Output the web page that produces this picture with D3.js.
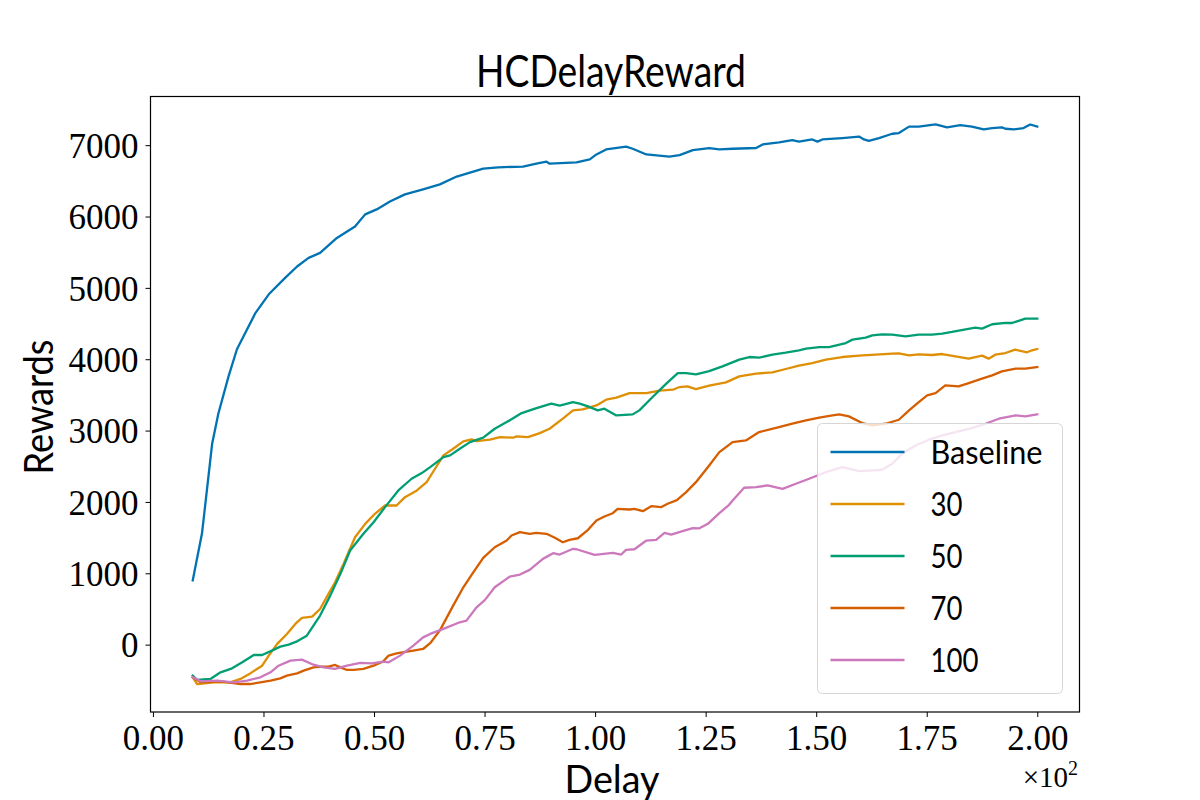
<!DOCTYPE html>
<html>
<head>
<meta charset="utf-8">
<script src="https://cdn.jsdelivr.net/npm/d3@7"></script>
<style>
  body { margin: 0; background: #fff; }
  svg { display: block; }
  .tick text { font-family: "Liberation Serif", serif; font-size: 35px; fill: #000; }
  .sans { font-family: Lato, "Open Sans", sans-serif; fill: #000; }
</style>
</head>
<body>
<svg id="chart" width="1200" height="800"></svg>
<script>
// delay (x100 shown on axis) vs reward
const baseline = [[9,900],[11.1,1560],[13.4,2820],[14.8,3240],[17.1,3760],[19,4140],[20.9,4370],[23.2,4650],[26.2,4910],[29.9,5140],[32.6,5300],[35.2,5420],[37.8,5490],[41.6,5700],[45.7,5860],[48,6030],[50.6,6100],[53.6,6210],[57,6310],[61.1,6380],[64.9,6450],[68.7,6560],[74.7,6670],[78.1,6690],[83.7,6700],[86.7,6740],[89,6770],[89.7,6740],[95.8,6760],[98.8,6800],[100.3,6870],[102.5,6940],[107,6980],[108.5,6950],[111.6,6870],[116.8,6840],[119.1,6860],[122.1,6930],[125.8,6960],[128.1,6940],[131.1,6950],[136.4,6960],[137.9,7010],[141.6,7040],[144.6,7070],[146.1,7050],[149.1,7080],[150.3,7050],[151.4,7080],[155.9,7100],[159.7,7120],[160.8,7080],[161.9,7060],[164.2,7100],[167.2,7160],[168.7,7170],[171,7260],[173.2,7260],[177,7290],[179.6,7250],[182.6,7280],[185.2,7260],[187.9,7220],[189.8,7240],[192,7250],[192.8,7230],[194.7,7220],[196.9,7240],[198.4,7290],[200,7260]];

const delay30 = [[9,-458],[10,-552],[13.8,-528],[17.5,-528],[19.8,-481],[22,-403],[24.7,-295],[26.2,-154],[28.1,10],[30.3,150],[32.2,290],[33.7,375],[36,393],[37.8,500],[39.7,711],[41.2,874],[43.1,1130],[45.7,1505],[48,1693],[50.2,1834],[52.5,1950],[55.1,1950],[57,2067],[59.7,2161],[61.9,2277],[63.8,2465],[65.7,2652],[67.9,2746],[70.2,2848],[72.1,2876],[73.2,2853],[76.2,2872],[78.5,2909],[81.5,2900],[82.2,2918],[84.8,2909],[87.5,2965],[89.7,3026],[92.7,3167],[95,3283],[97.2,3297],[100.3,3353],[102.5,3433],[104.8,3461],[107.8,3526],[111.6,3526],[114.6,3559],[117.6,3573],[119.1,3610],[120.9,3620],[122.8,3582],[125.8,3629],[129.6,3676],[132.6,3760],[136.4,3798],[140.1,3816],[143.1,3863],[146.1,3910],[149.1,3947],[152.2,3994],[155.9,4031],[159.7,4050],[163.4,4064],[167.2,4078],[168.7,4083],[171,4055],[173.2,4069],[176.2,4059],[178.5,4073],[181.5,4041],[184.5,4008],[187.5,4050],[189,4008],[190.5,4064],[192.8,4087],[195,4134],[197.7,4097],[198.8,4125],[200,4143]];

const delay50 = [[9,-435],[10,-495],[13,-481],[15.3,-388],[17.9,-332],[20.2,-248],[22.8,-145],[24.7,-145],[26.9,-84],[28.8,-28],[30.7,0],[32.6,46],[34.8,126],[37.8,407],[40.1,687],[42.4,992],[44.6,1319],[47.6,1553],[49.9,1716],[52.5,1927],[55.5,2161],[58.5,2325],[60.8,2404],[62.7,2488],[65.7,2628],[67.2,2652],[69.4,2746],[71.7,2838],[74.7,2900],[77.3,3026],[80,3119],[83.4,3245],[86.4,3307],[90.1,3377],[92,3349],[95,3400],[96.5,3377],[98.4,3339],[100.6,3283],[102.1,3307],[104.8,3213],[108.5,3227],[110,3283],[113,3470],[116.1,3658],[118.7,3806],[120.6,3806],[122.8,3788],[125.8,3834],[128.8,3900],[132.6,3994],[134.9,4031],[137.1,4022],[140.1,4064],[143.1,4092],[146.1,4125],[147.7,4148],[150.7,4171],[152.9,4171],[156.7,4227],[158.2,4275],[161.2,4303],[162.7,4335],[164.9,4349],[167.2,4345],[170.2,4321],[173.2,4345],[176.2,4345],[178.5,4359],[180.7,4382],[183.8,4419],[186,4443],[187.5,4429],[189.8,4490],[192.8,4508],[194.3,4508],[197.3,4570],[200,4570]];

const delay70 = [[9,-458],[10.8,-528],[15.3,-514],[19.8,-552],[22,-552],[24.3,-528],[26.6,-505],[28.8,-472],[30.3,-435],[32.6,-402],[34.1,-365],[36.3,-318],[38.2,-309],[39.7,-309],[41.2,-285],[42.4,-318],[43.9,-355],[45.4,-355],[47.6,-341],[49.9,-295],[52.1,-234],[53.3,-154],[55.1,-122],[57.4,-98],[58.9,-84],[61.1,-61],[62.7,20],[64.9,200],[67.9,547],[70.2,804],[72.1,982],[74.7,1216],[77.3,1365],[80,1459],[81.1,1529],[83,1576],[85.2,1553],[86.7,1567],[89,1553],[90.9,1497],[92.7,1435],[94.2,1469],[96.1,1491],[98.4,1609],[100.3,1740],[102.1,1796],[104,1842],[105.1,1904],[107.8,1894],[108.9,1904],[110.8,1870],[112.7,1940],[114.9,1926],[116.4,1974],[118.5,2025],[120.6,2137],[122.8,2277],[125.8,2511],[128.1,2698],[131.1,2838],[134.1,2862],[137.1,2979],[141.6,3049],[144.6,3096],[147.7,3143],[150.7,3180],[153.7,3213],[155.2,3227],[157.4,3199],[160.4,3105],[162.7,3073],[165.7,3096],[168.7,3152],[171,3283],[173.2,3400],[175.1,3494],[177,3526],[179.2,3634],[182.2,3620],[184.5,3666],[187.5,3728],[189.8,3774],[192,3830],[195.1,3868],[197.3,3868],[200,3891]];

const delay100 = [[9,-458],[10.8,-514],[14.5,-505],[18.3,-528],[21.3,-505],[24.3,-458],[26.6,-388],[28.4,-295],[31.1,-224],[33.7,-210],[36.3,-281],[38.6,-318],[41.2,-341],[43.9,-295],[46.9,-257],[49.5,-262],[52.1,-238],[53.3,-248],[55.9,-154],[58.9,-14],[61.1,102],[62.7,150],[65.7,220],[69.4,313],[70.9,337],[73.2,523],[75.1,627],[77.3,804],[80.7,954],[83,982],[85.2,1048],[88.2,1202],[90.5,1281],[92,1263],[95,1343],[95.8,1337],[99.9,1258],[104,1286],[105.9,1263],[107,1329],[108.9,1337],[111.6,1459],[113.8,1469],[115.7,1567],[117.2,1543],[119.4,1585],[122.1,1632],[123.6,1630],[125.5,1693],[128.1,1842],[130.3,1960],[131.1,2020],[133.7,2199],[136.4,2207],[139,2231],[142.4,2184],[145.4,2255],[148.4,2325],[152.2,2418],[155.9,2488],[159.7,2432],[162.7,2441],[164.9,2451],[167.2,2535],[169.4,2676],[172.5,2792],[175.5,2872],[178.5,2932],[182.2,2988],[185.2,3035],[188.3,3096],[191.3,3166],[195.1,3213],[197.3,3199],[200,3227]];

const seriesNames = ['Baseline', '30', '50', '70', '100'];
const seriesData = [baseline, delay30, delay50, delay70, delay100];
const colors = ['#0173b2', '#de8f05', '#029e73', '#d55e00', '#cc78bc'];
const xTicks = [0, 25, 50, 75, 100, 125, 150, 175, 200];
const yTicks = [0, 1000, 2000, 3000, 4000, 5000, 6000, 7000];

const svg = d3.select('#chart');
const box = { left: 150.5, right: 1079.5, top: 96.5, bottom: 712 };

// matplotlib-like 5% margins
const all = seriesData.flat();
const xExt = d3.extent(all, d => d[0]);
const yExt = d3.extent(all, d => d[1]);
const xPad = (xExt[1] - xExt[0]) * 0.05;
const yPad = (yExt[1] - yExt[0]) * 0.05;

const x = d3.scaleLinear().domain([xExt[0] - xPad, xExt[1] + xPad]).range([box.left, box.right]);
const y = d3.scaleLinear().domain([yExt[0] - yPad, yExt[1] + yPad]).range([box.bottom, box.top]);

const line = d3.line().x(d => x(d[0])).y(d => y(d[1]));

const plot = svg.append('g');
seriesData.forEach((s, i) => {
    plot.append('path')
        .datum(s)
        .attr('d', line)
        .attr('fill', 'none')
        .attr('stroke', colors[i])
        .attr('stroke-width', 2.3)
        .attr('stroke-linejoin', 'round')
        .attr('stroke-linecap', 'square');
});

// axes
const xAxis = svg.append('g')
    .attr('transform', `translate(0,${box.bottom})`)
    .call(d3.axisBottom(x).tickValues(xTicks).tickSize(5).tickPadding(6)
        .tickFormat(d => (d / 100).toFixed(2)));
xAxis.select('.domain').remove();
xAxis.selectAll('.tick text').attr('dy', '0.76em');

const yAxis = svg.append('g')
    .attr('transform', `translate(${box.left},0)`)
    .call(d3.axisLeft(y).tickValues(yTicks).tickSize(5).tickPadding(7)
        .tickFormat(d3.format('d')));
yAxis.select('.domain').remove();
yAxis.selectAll('.tick text').attr('dy', '0.35em');
svg.selectAll('.tick line').attr('stroke', '#000').attr('stroke-width', 1);

svg.append('rect')
    .attr('x', box.left).attr('y', box.top)
    .attr('width', box.right - box.left).attr('height', box.bottom - box.top)
    .attr('fill', 'none').attr('stroke', '#000').attr('stroke-width', 1.2);

// offset text
svg.append('text')
    .attr('x', 1078).attr('y', 787)
    .attr('text-anchor', 'end')
    .style('font-family', '"Liberation Serif", serif')
    .style('font-size', '29px')
    .html('×10<tspan dy="-12" font-size="20px">2</tspan>');

// labels
svg.append('text').attr('class', 'sans')
    .attr('x', 611).attr('y', 87)
    .attr('text-anchor', 'middle')
    .attr('textLength', 270).attr('lengthAdjust', 'spacingAndGlyphs')
    .style('font-size', '44px')
    .text('HCDelayReward');

svg.append('text').attr('class', 'sans')
    .attr('x', 612).attr('y', 793)
    .attr('text-anchor', 'middle')
    .attr('textLength', 95).attr('lengthAdjust', 'spacingAndGlyphs')
    .style('font-size', '39px')
    .text('Delay');

svg.append('text').attr('class', 'sans')
    .attr('transform', 'translate(53,407) rotate(-90)')
    .attr('text-anchor', 'middle')
    .attr('textLength', 135).attr('lengthAdjust', 'spacingAndGlyphs')
    .style('font-size', '41px')
    .text('Rewards');

// legend
const legend = svg.append('g').attr('transform', 'translate(817.5,423.5)');
legend.append('rect')
    .attr('width', 245).attr('height', 270)
    .attr('rx', 5).attr('ry', 5)
    .attr('fill', '#fff').attr('fill-opacity', 0.8)
    .attr('stroke', '#d6d6d6').attr('stroke-width', 1);

const legendWidths = [112, 32, 32, 32, 48];
seriesNames.forEach((name, i) => {
    const row = legend.append('g').attr('transform', `translate(0,${28.5 + i * 52})`);
    row.append('line')
        .attr('x1', 13).attr('x2', 87)
        .attr('stroke', colors[i]).attr('stroke-width', 2.3);
    row.append('text').attr('class', 'sans')
        .attr('x', 113).attr('y', 12)
        .attr('textLength', legendWidths[i]).attr('lengthAdjust', 'spacingAndGlyphs')
        .style('font-size', '32px')
        .text(name);
});
</script>
</body>
</html>
